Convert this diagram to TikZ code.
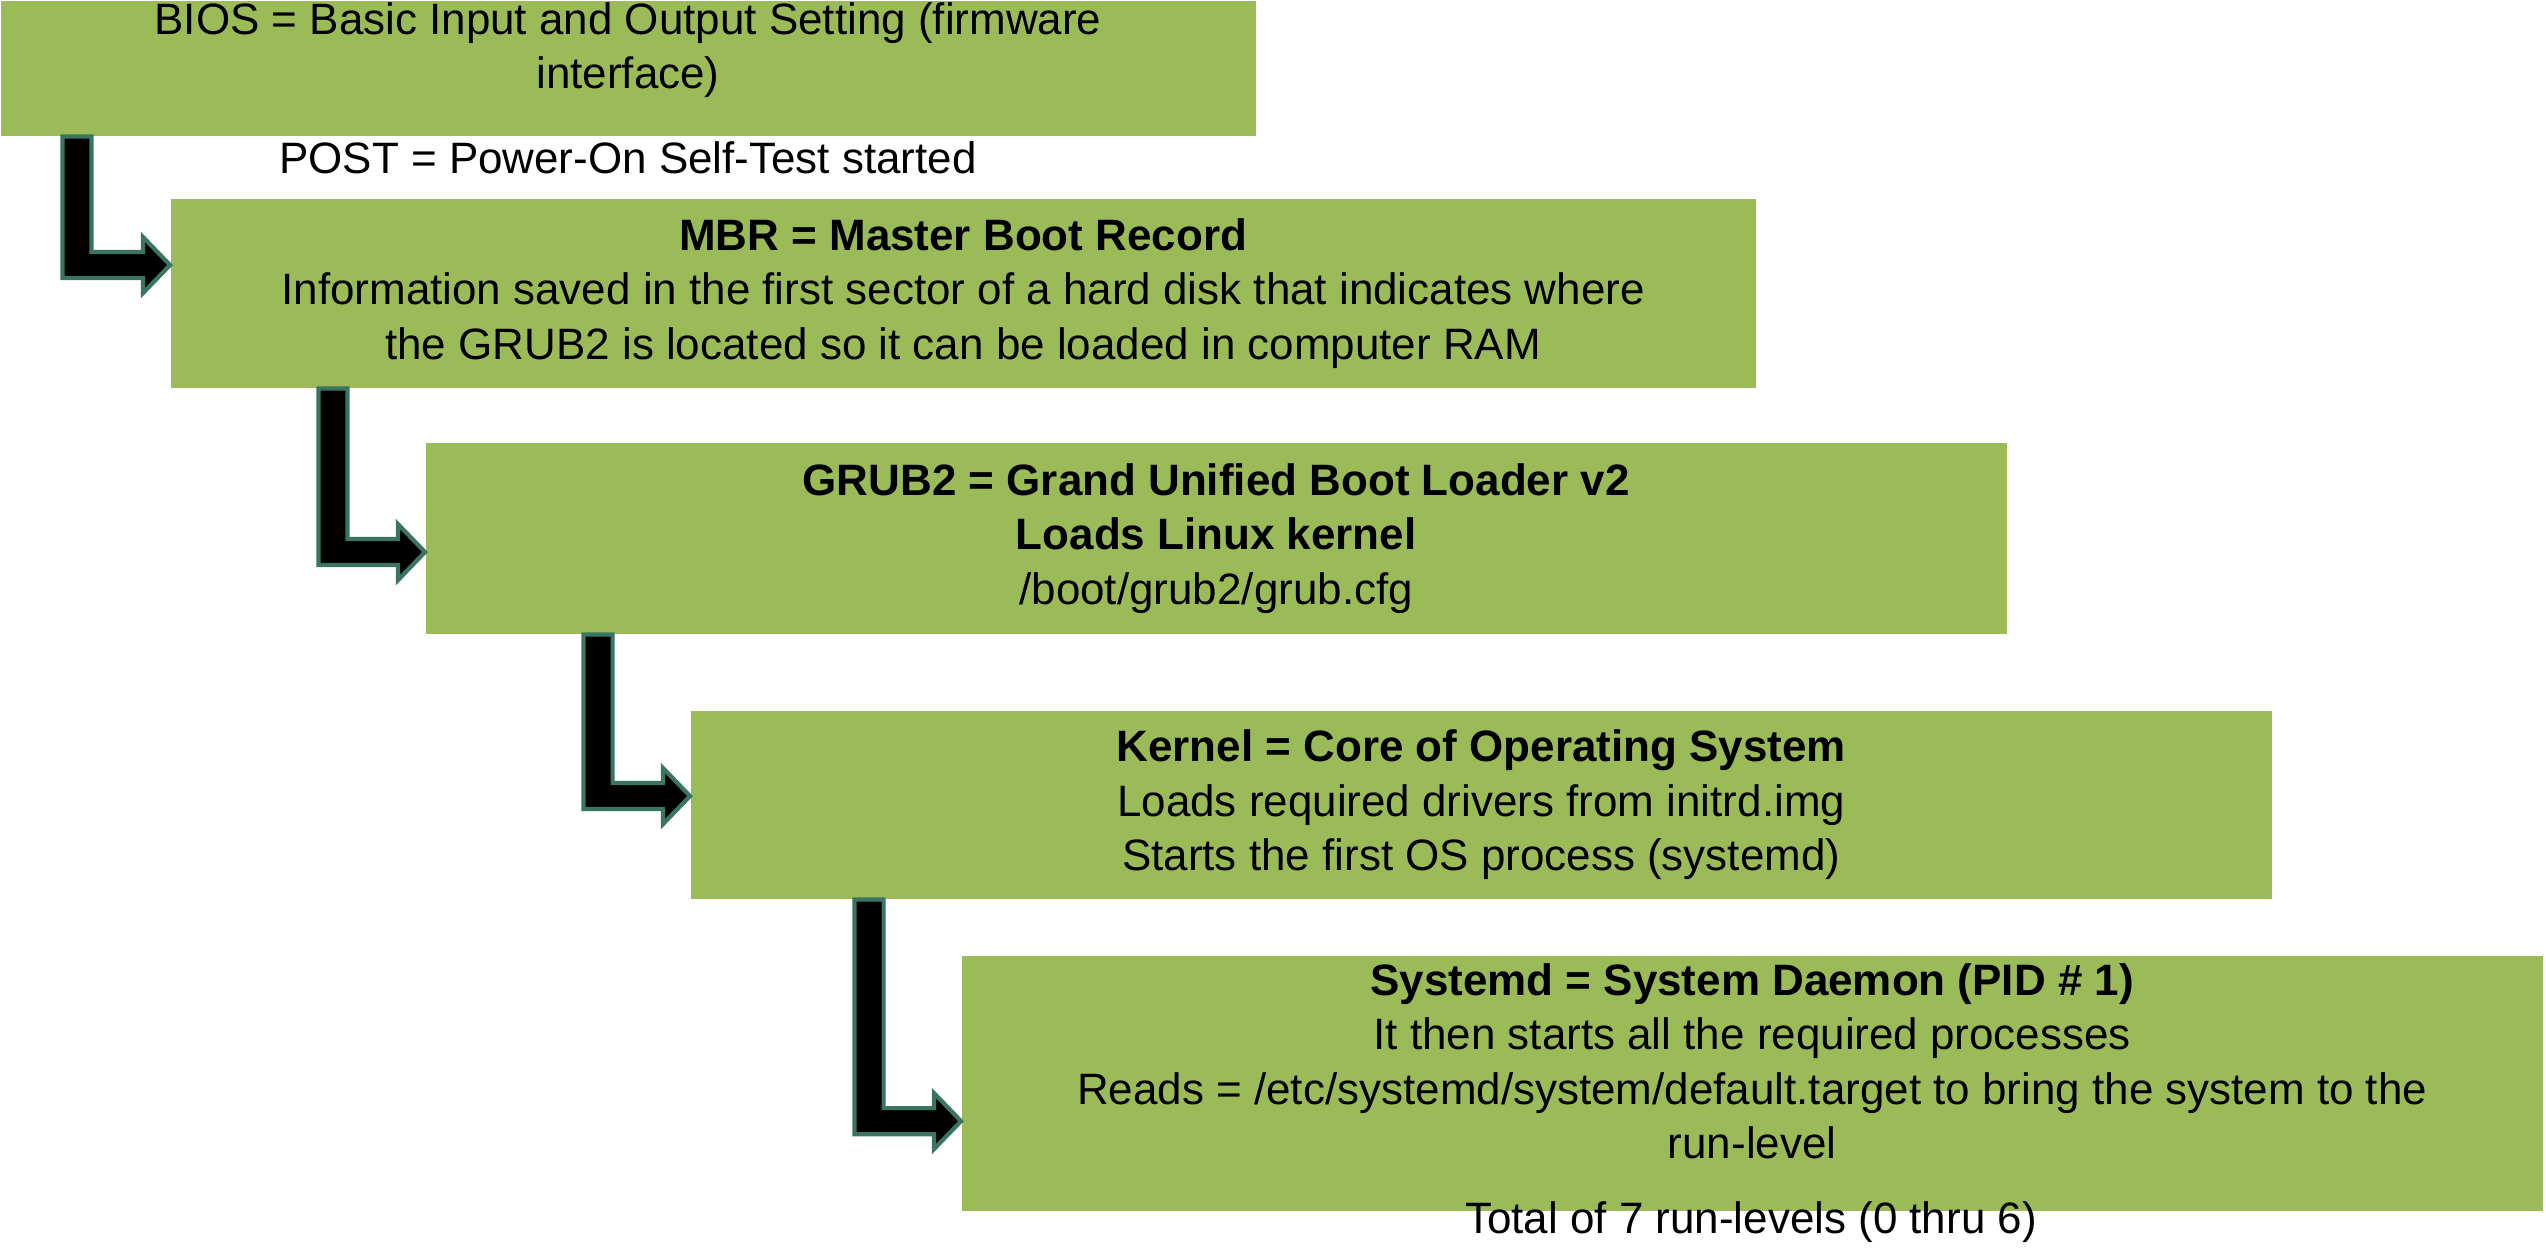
\documentclass[tikz,border=0pt]{standalone}
\usepackage{fontspec}
\setmainfont{Liberation Sans}
\usetikzlibrary{calc,positioning}
\definecolor{stepgreen}{HTML}{9BBB59}
\definecolor{arrowedge}{HTML}{3A7560}
\newcommand\elbowarrow[2]{%
  \filldraw[black,draw=arrowedge,line width=1.2pt,line join=miter]
    let \p1=(#1),\p2=(#2) in
    (\x1-0.145cm,\y1) -- (\x1+0.145cm,\y1) -- (\x1+0.145cm,\y2+0.13cm)
    -- (\x2-0.27cm,\y2+0.13cm) -- (\x2-0.27cm,\y2+0.28cm) -- (\x2,\y2)
    -- (\x2-0.27cm,\y2-0.28cm) -- (\x2-0.27cm,\y2-0.13cm)
    -- (\x1-0.145cm,\y2-0.13cm) -- cycle;}
\begin{document}
\begin{tikzpicture}[x=0.01cm,y=-0.01cm,
  box/.style = {fill=stepgreen,anchor=north west,inner sep=0pt,align=center,
    font=\fontsize{12.5}{15.5}\selectfont},
  note/.style = {inner sep=0pt,align=center,font=\fontsize{12.5}{15.5}\selectfont}]
  \useasboundingbox (0,0) rectangle (2546,1256);

  % boxes
  \node [box,minimum width=12.55cm,minimum height=1.35cm] (bios) at (0,0) {};
  \node [note] at (628,50) {BIOS = Basic Input and Output Setting (firmware\\interface)};
  \node [note] (post) at (628,158) {POST = Power-On Self-Test started};

  \node [box,minimum width=15.84cm,minimum height=1.89cm] (mbr) at (170,198)
    {\textbf{MBR = Master Boot Record}\\
     Information saved in the first sector of a hard disk that indicates where\\
     the GRUB2 is located so it can be loaded in computer RAM};

  \node [box,minimum width=15.80cm,minimum height=1.91cm] (grub) at (425,442)
    {\textbf{GRUB2 = Grand Unified Boot Loader v2}\\
     \textbf{Loads Linux kernel}\\
     /boot/grub2/grub.cfg};

  \node [box,minimum width=15.80cm,minimum height=1.88cm] (kernel) at (690,710)
    {\textbf{Kernel = Core of Operating System}\\
     Loads required drivers from initrd.img\\
     Starts the first OS process (systemd)};

  \node [box,minimum width=15.80cm,minimum height=2.55cm] (systemd) at (961,955)
    {\textbf{Systemd = System Daemon (PID \# 1)}\\
     It then starts all the required processes\\
     Reads = /etc/systemd/system/default.target to bring the system to the\\
     run-level\\[-0.1cm]\mbox{}};
  \node [note] (runlevels) at (1751,1222) {Total of 7 run-levels (0 thru 6)};

  % elbow arrows
  \coordinate (a1) at ([xshift=0.77cm]bios.south west);
  \coordinate (t1) at ([yshift=-0.67cm]mbr.north west);
  \elbowarrow{a1}{t1}
  \coordinate (a2) at ([xshift=1.63cm]mbr.south west);
  \coordinate (t2) at ([yshift=-1.10cm]grub.north west);
  \elbowarrow{a2}{t2}
  \coordinate (a3) at ([xshift=1.73cm]grub.south west);
  \coordinate (t3) at ([yshift=-0.86cm]kernel.north west);
  \elbowarrow{a3}{t3}
  \coordinate (a4) at ([xshift=1.79cm]kernel.south west);
  \coordinate (t4) at ([yshift=-1.66cm]systemd.north west);
  \elbowarrow{a4}{t4}
\end{tikzpicture}
\end{document}
